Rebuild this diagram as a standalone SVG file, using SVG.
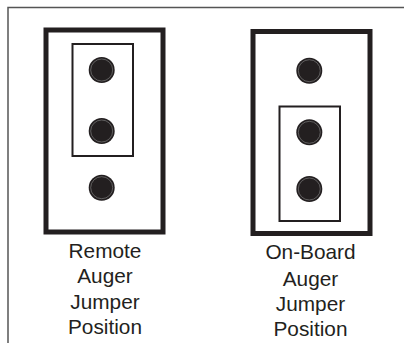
<svg xmlns="http://www.w3.org/2000/svg" width="404" height="343" viewBox="0 0 404 343">
<style>
.frame{fill:none;stroke:#555;stroke-width:1.5}
.outer{fill:#fff;stroke:#231f20;stroke-width:5}
.inner{fill:#fff;stroke:#231f20;stroke-width:2}
.pin{fill:#231f20}
.ring{fill:none;stroke:#888;stroke-width:0.6}
.lbl{font-family:"Liberation Sans",Arial,sans-serif;font-size:20.8px;fill:#231f20;text-anchor:middle}
</style>
<rect width="404" height="343" fill="#fff"/>
<g id="frame">
<path class="frame" d="M8,343 V7.5 H404"/>
</g>
<g id="remote">
<rect class="outer" x="46" y="30" width="117" height="202"/>
<rect class="inner" x="72.5" y="44" width="60.5" height="112"/>
<circle class="pin" cx="101.7" cy="70" r="13"/>
<circle class="ring" cx="101.7" cy="70" r="11"/>
<circle class="pin" cx="101.7" cy="131" r="13"/>
<circle class="ring" cx="101.7" cy="131" r="11"/>
<circle class="pin" cx="101.7" cy="187.7" r="13"/>
<circle class="ring" cx="101.7" cy="187.7" r="11"/>
<text class="lbl" x="105" y="257.5">Remote</text>
<text class="lbl" x="105" y="283.2">Auger</text>
<text class="lbl" x="105" y="308.8">Jumper</text>
<text class="lbl" x="105" y="334.3">Position</text>
</g>
<g id="onboard">
<rect class="outer" x="253" y="31.5" width="117" height="202"/>
<rect class="inner" x="279.5" y="106.5" width="60.5" height="114.5"/>
<circle class="pin" cx="309.3" cy="70.7" r="13"/>
<circle class="ring" cx="309.3" cy="70.7" r="11"/>
<circle class="pin" cx="309.3" cy="132.3" r="13"/>
<circle class="ring" cx="309.3" cy="132.3" r="11"/>
<circle class="pin" cx="309.3" cy="189" r="13"/>
<circle class="ring" cx="309.3" cy="189" r="11"/>
<text class="lbl" x="310.5" y="258.8">On-Board</text>
<text class="lbl" x="310.5" y="286">Auger</text>
<text class="lbl" x="310.5" y="311.2">Jumper</text>
<text class="lbl" x="310.5" y="336.3">Position</text>
</g>
<g id="connectors"></g>
</svg>
